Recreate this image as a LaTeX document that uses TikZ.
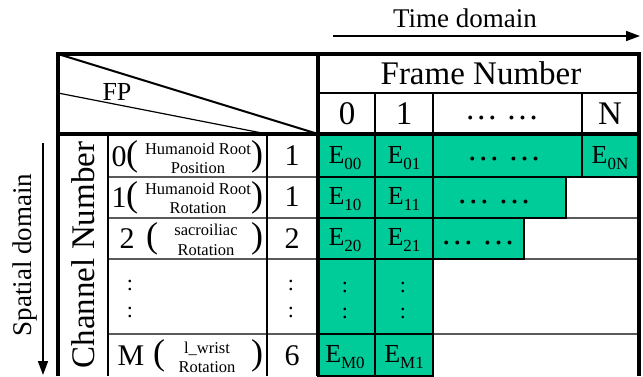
\documentclass[tikz,border=0pt]{standalone}
\usepackage{fontspec}
\setmainfont{Liberation Serif}
\usetikzlibrary{arrows.meta}

\definecolor{cellgreen}{HTML}{00CC99}
\definecolor{rulegray}{HTML}{5A5A5A}

\newcommand{\fs}[1]{\fontsize{#1}{#1}\selectfont}
\newcommand{\Esub}[1]{E\raisebox{-0.25em}{\fs{17}#1}}
\newcommand{\hdots}{…\hspace{0.25em}…}

\tikzset{
  thickrule/.style={line width=3.2pt},
  midrule/.style={line width=2.2pt},
  thinrule/.style={line width=1.3pt, draw=rulegray},
  greencell/.style={fill=cellgreen, draw=black, line width=1.4pt},
  axislabel/.style={font=\fs{27}, inner sep=0pt},
  head/.style={font=\fs{33}, inner sep=0pt},
  digit/.style={font=\fs{30}, inner sep=0pt},
  lead/.style={font=\fs{30}, inner sep=0pt},
  paren/.style={font=\fs{36}, inner sep=0pt},
  joint/.style={font=\fontsize{16.5}{19.5}\selectfont, align=center, inner sep=0pt},
  ecell/.style={font=\fs{26}, inner sep=0pt},
  dotsnode/.style={font=\fs{33}, inner sep=0pt},
  colon/.style={font=\fs{22}, inner sep=0pt},
  axisarrow/.style={line width=1.6pt, -{Triangle[length=14pt,width=10pt]}}
}

\begin{document}
\begin{tikzpicture}[x=1pt,y=-1pt]
\useasboundingbox (0,0) rectangle (643,376);

% row rules, light
\foreach \yy in {177,218,259,334}
  \draw[thinrule] (108,\yy) -- (639,\yy);

% filled E cells
\foreach \xa/\ya/\xb/\yb in {318/134/375/177, 375/134/433/177, 433/134/582/177, 582/134/639/177,
                             318/177/375/218, 375/177/433/218, 433/177/566/218,
                             318/218/375/259, 375/218/433/259, 433/218/524/259,
                             318/259/375/334, 375/259/433/334,
                             318/334/375/376, 375/334/433/376}
  \draw[greencell] (\xa,\ya) rectangle (\xb,\yb);

% frame
\draw[thickrule] (58,376) -- (58,54) -- (639,54) -- (639,376);
\draw[thickrule] (318,54) -- (318,376);
\draw[thickrule] (58,134) -- (639,134);
\draw[midrule] (318,93) -- (639,93);
\foreach \xx in {375,433,582}
  \draw[midrule] (\xx,93) -- (\xx,134);
\foreach \xx in {108,267}
  \draw[midrule] (\xx,134) -- (\xx,376);

% split corner
\draw[line width=2pt] (58,54) -- (318,134);
\draw[line width=1.2pt] (58,93) -- (267,134);

% domain arrows
\node[axislabel] (time) at (465,18) {Time domain};
\coordinate (timestart) at (333,36);
\coordinate (timeend) at (640,36);
\draw[axisarrow] (timestart) -- (timeend);

\node[axislabel, rotate=90] (space) at (25,255) {Spatial domain};
\coordinate (spacestart) at (43,143);
\coordinate (spaceend) at (43,375);
\draw[axisarrow] (spacestart) -- (spaceend);

% header
\node[font=\fs{26}, inner sep=0pt] (fp) at (117,92) {FP};
\node[head] (frame) at (481,73) {Frame Number};
\node[head] (f0) at (347,114) {0};
\node[head] (f1) at (404,114) {1};
\node[dotsnode] (fdots) at (502,118) {\hdots};
\node[head] (fN) at (610,114) {N};
\node[head, rotate=90] (channel) at (83,255) {Channel Number};

% channel labels
\node[lead] (c0) at (119,157) {0};
\node[paren] (c0l) at (132,157) {(};
\node[joint] (c0t) at (198,158.5) {Humanoid Root\\Position};
\node[paren] (c0r) at (257,157) {)};

\node[lead] (c1) at (119,198) {1};
\node[paren] (c1l) at (132,198) {(};
\node[joint] (c1t) at (198,198.5) {Humanoid Root\\Rotation};
\node[paren] (c1r) at (257,198) {)};

\node[lead] (c2) at (127,239) {2};
\node[paren] (c2l) at (152,239) {(};
\node[joint] (c2t) at (206,240) {sacroiliac\\Rotation};
\node[paren] (c2r) at (257,239) {)};

\node[colon] (cd1) at (130,285) {:};
\node[colon] (cd2) at (130,312) {:};

\node[lead] (cM) at (131,356) {M};
\node[paren] (cMl) at (159,356) {(};
\node[joint] (cMt) at (207,357.5) {l\_wrist\\Rotation};
\node[paren] (cMr) at (257,356) {)};

% FP values
\node[digit] (p0) at (292,156) {1};
\node[digit] (p1) at (292,197) {1};
\node[digit] (p2) at (292,239) {2};
\node[colon] (pd1) at (291,285) {:};
\node[colon] (pd2) at (291,312) {:};
\node[digit] (pM) at (292,356) {6};

% E cells
\node[ecell] (e00) at (345,158) {\Esub{00}};
\node[ecell] (e01) at (404,158) {\Esub{01}};
\node[dotsnode] (e0d) at (504,159) {\hdots};
\node[ecell] (e0N) at (610,158) {\Esub{0N}};
\node[ecell] (e10) at (345,199) {\Esub{10}};
\node[ecell] (e11) at (404,199) {\Esub{11}};
\node[dotsnode] (e1d) at (494,202) {\hdots};
\node[ecell] (e20) at (345,240) {\Esub{20}};
\node[ecell] (e21) at (404,240) {\Esub{21}};
\node[dotsnode] (e2d) at (478,243) {\hdots};
\node[colon] (ed1) at (345,287) {:};
\node[colon] (ed2) at (345,313) {:};
\node[colon] (ed3) at (403,287) {:};
\node[colon] (ed4) at (403,313) {:};
\node[ecell] (eM0) at (345,357) {\Esub{M0}};
\node[ecell] (eM1) at (404,357) {\Esub{M1}};
\end{tikzpicture}
\end{document}
